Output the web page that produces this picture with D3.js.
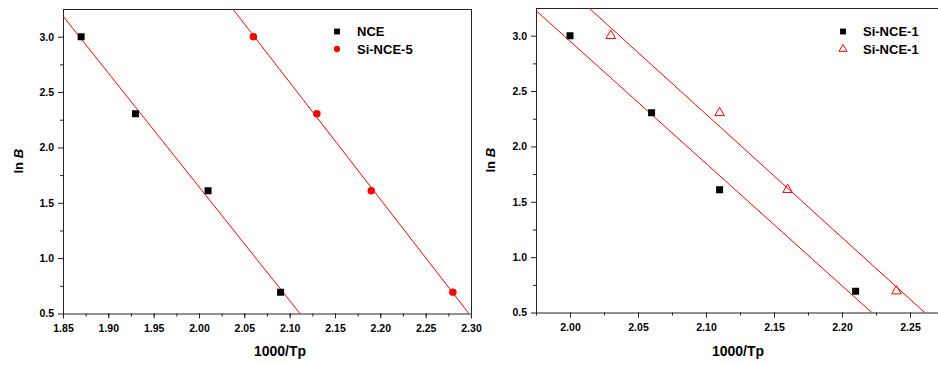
<!DOCTYPE html>
<html>
<head>
<meta charset="utf-8">
<script src="https://cdn.jsdelivr.net/npm/d3@7"></script>
<style>
  body { margin: 0; background: #fff; }
  svg { display: block; font-family: "Liberation Sans", Arial, sans-serif; }
  .tick text { font-weight: bold; font-size: 10.5px; fill: #000; }
</style>
</head>
<body>
<div id="chart"></div>
<script>
// ln B values for heating rates 20, 10, 5, 2 K/min
const lnB = [3.0, 2.303, 1.609, 0.693];

// left panel
const nceX = [1.87, 1.93, 2.01, 2.09];
const si5X = [2.06, 2.13, 2.19, 2.28];
// right panel
const si1aX = [2.00, 2.06, 2.11, 2.21];
const si1bX = [2.03, 2.11, 2.16, 2.24];

const leftXTicks = [1.85, 1.90, 1.95, 2.00, 2.05, 2.10, 2.15, 2.20, 2.25, 2.30];
const rightXTicks = [2.00, 2.05, 2.10, 2.15, 2.20, 2.25];
const yTicks = [0.5, 1.0, 1.5, 2.0, 2.5, 3.0];

const W = 938, H = 365;
const svg = d3.select("#chart").append("svg")
  .attr("width", W).attr("height", H);

// least squares line through the points
function fit(xs, ys) {
  const mx = d3.mean(xs), my = d3.mean(ys);
  let sxy = 0, sxx = 0;
  xs.forEach((x, i) => { sxy += (x - mx) * (ys[i] - my); sxx += (x - mx) * (x - mx); });
  const k = sxy / sxx;
  return x => my + k * (x - mx);
}

function drawPanel(opt) {
  const x = d3.scaleLinear().domain(opt.xDomain).range(opt.xRange);
  const y = d3.scaleLinear().domain([0.5, 3.25]).range(opt.yRange);
  const g = svg.append("g");
  const left = opt.xRange[0], right = Math.min(opt.xRange[1], W);
  const top = opt.yRange[1], bottom = opt.yRange[0];

  g.append("clipPath").attr("id", opt.id + "-clip")
    .append("rect").attr("x", left).attr("y", top)
    .attr("width", right - left).attr("height", bottom - top);

  // frame (top and right)
  g.append("line").attr("x1", left).attr("x2", right).attr("y1", top + 0.5).attr("y2", top + 0.5)
    .attr("stroke", "#222");
  if (opt.rightFrame) {
    g.append("line").attr("x1", right + 0.5).attr("x2", right + 0.5).attr("y1", top).attr("y2", bottom)
      .attr("stroke", "#222");
  }

  // minor ticks
  const minorX = d3.range(opt.xDomain[0], opt.xDomain[1] + 1e-9, 0.025);
  g.append("g").attr("transform", `translate(0,${bottom})`)
    .call(d3.axisBottom(x).tickValues(minorX).tickSize(3).tickFormat(""))
    .call(a => a.select(".domain").remove())
    .selectAll("line").attr("stroke", "#222");
  g.append("g").attr("transform", `translate(${left},0)`)
    .call(d3.axisLeft(y).tickValues(d3.range(0.75, 3.25, 0.5)).tickSize(3).tickFormat(""))
    .call(a => a.select(".domain").remove())
    .selectAll("line").attr("stroke", "#222");

  // major axes
  const xa = g.append("g").attr("transform", `translate(0,${bottom})`)
    .call(d3.axisBottom(x).tickValues(opt.xTicks).tickSize(5).tickSizeOuter(0).tickPadding(6)
      .tickFormat(d3.format(".2f")));
  xa.select(".domain").attr("stroke", "#222");
  xa.selectAll("line").attr("stroke", "#222");
  const ya = g.append("g").attr("transform", `translate(${left},0)`)
    .call(d3.axisLeft(y).tickValues(yTicks).tickSize(5).tickSizeOuter(0).tickPadding(4)
      .tickFormat(d3.format(".1f")));
  ya.select(".domain").attr("stroke", "#222");
  ya.selectAll("line").attr("stroke", "#222");

  // axis titles
  g.append("text").attr("x", opt.xTitleX).attr("y", 356)
    .attr("text-anchor", "middle").attr("font-weight", "bold").attr("font-size", 14)
    .text("1000/Tp");
  const yt = g.append("text")
    .attr("transform", `translate(${opt.yTitleX},${(top + bottom) / 2}) rotate(-90)`)
    .attr("text-anchor", "middle").attr("font-weight", "bold").attr("font-size", 13);
  yt.append("tspan").text("ln ");
  yt.append("tspan").attr("font-style", "italic").text("B");

  // fit lines
  const plot = g.append("g").attr("clip-path", `url(#${opt.id}-clip)`);
  opt.series.forEach(s => {
    const f = fit(s.x, lnB);
    const xs = [opt.xDomain[0], opt.xDomain[1]];
    plot.append("path")
      .attr("d", d3.line().x(d => x(d)).y(d => y(f(d)))(xs))
      .attr("stroke", "#ff0000").attr("stroke-width", 1).attr("fill", "none");
  });

  // markers
  opt.series.forEach(s => {
    const sym = d3.symbol().type(s.type).size(s.size);
    plot.selectAll(null).data(s.x.map((v, i) => [v, lnB[i]])).enter()
      .append("path")
      .attr("transform", d => `translate(${x(d[0])},${y(d[1])})`)
      .attr("d", sym)
      .attr("fill", s.hollow ? "none" : s.color)
      .attr("stroke", s.hollow ? s.color : "none")
      .attr("stroke-width", 1);
  });

  // legend
  opt.series.forEach((s, i) => {
    const ly = opt.legend[1] + i * 17.5;
    g.append("path")
      .attr("transform", `translate(${opt.legend[0]},${ly})`)
      .attr("d", d3.symbol().type(s.type).size(s.size * 0.7))
      .attr("fill", s.hollow ? "none" : s.color)
      .attr("stroke", s.hollow ? s.color : "none");
    g.append("text").attr("x", opt.legend[0] + 20).attr("y", ly + 4.5)
      .attr("font-weight", "bold").attr("font-size", 13).text(s.name);
  });
}

drawPanel({
  id: "left",
  xDomain: [1.85, 2.30], xRange: [63, 471], yRange: [313.5, 9],
  xTicks: leftXTicks, rightFrame: true,
  xTitleX: 280, yTitleX: 23,
  legend: [337, 31.5],
  series: [
    { name: "NCE", x: nceX, type: d3.symbolSquare, size: 49, color: "#000" },
    { name: "Si-NCE-5", x: si5X, type: d3.symbolCircle, size: 44, color: "#ff0000" }
  ]
});

drawPanel({
  id: "right",
  xDomain: [1.975, 2.275], xRange: [536, 944], yRange: [312.5, 8],
  xTicks: rightXTicks, rightFrame: false,
  xTitleX: 738, yTitleX: 495,
  legend: [843, 31.5],
  series: [
    { name: "Si-NCE-1", x: si1aX, type: d3.symbolSquare, size: 49, color: "#000" },
    { name: "Si-NCE-1", x: si1bX, type: d3.symbolTriangle, size: 40, color: "#ff0000", hollow: true }
  ]
});
</script>
</body>
</html>
